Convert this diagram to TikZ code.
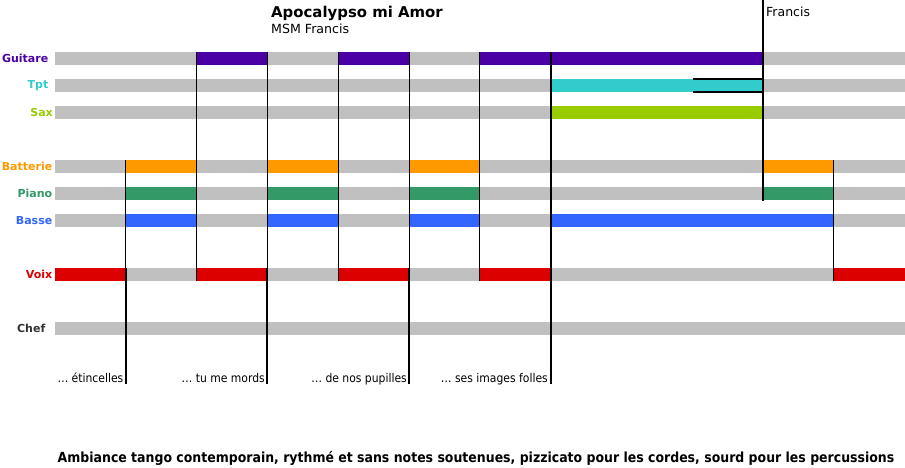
\documentclass[tikz,border=0pt]{standalone}
\usepackage{fontspec}
\setmainfont{DejaVu Sans}
\newfontfamily\condfont{DejaVu Sans Condensed}
\definecolor{cgray}{HTML}{C0C0C0}
\definecolor{cguit}{HTML}{4B00A5}
\definecolor{ctpt}{HTML}{33CCCC}
\definecolor{csax}{HTML}{99CC00}
\definecolor{cbat}{HTML}{FF9900}
\definecolor{cpia}{HTML}{339966}
\definecolor{cbas}{HTML}{3366FF}
\definecolor{cvoix}{HTML}{DD0000}
\definecolor{cchef}{HTML}{333333}
\newcommand{\seg}[4]{\fill[#1] (#3,#2-6.5) rectangle (#4,#2+6.5);}
\begin{document}
\begin{tikzpicture}[x=1pt,y=-1pt,
  lab/.style={anchor=east, font=\fontsize{11}{12}\selectfont\bfseries, inner sep=0pt},
  lyric/.style={anchor=base east, font=\condfont\fontsize{12}{14}\selectfont, inner sep=0pt},
  thinline/.style={line width=1pt, black},
  thickline/.style={line width=2pt, black}]
\useasboundingbox (0,0) rectangle (905,467);
\fill[white] (0,0) rectangle (905,467);
% grey tracks
\foreach \y in {58.5,85.5,112.5,166.5,193.5,220.5,274.5,328.5}
  {\seg{cgray}{\y}{55}{905}}
% guitare
\seg{cguit}{58.5}{196.6}{267.4}
\seg{cguit}{58.5}{338.2}{409}
\seg{cguit}{58.5}{479.8}{763}
% tpt, sax
\seg{ctpt}{85.5}{550.6}{763}
\seg{csax}{112.5}{550.6}{763}
% batterie, piano, basse
\foreach \a/\b in {125.8/196.6, 267.4/338.2, 409/479.8, 763/833.8}
  {\seg{cbat}{166.5}{\a}{\b}
   \seg{cpia}{193.5}{\a}{\b}}
\foreach \a/\b in {125.8/196.6, 267.4/338.2, 409/479.8, 550.6/833.8}
  {\seg{cbas}{220.5}{\a}{\b}}
% voix
\foreach \a/\b in {55/125.8, 196.6/267.4, 338.2/409, 479.8/550.6, 833.8/905}
  {\seg{cvoix}{274.5}{\a}{\b}}
% labels
\node[lab, text=cguit] (lguit) at (48.5,58.5) {Guitare};
\node[lab, text=ctpt] (ltpt) at (48.5,85.5) {Tpt};
\node[lab, text=csax] (lsax) at (53,112.5) {Sax};
\node[lab, text=cbat] (lbat) at (52.5,166.5) {Batterie};
\node[lab, text=cpia] (lpia) at (52.5,193.5) {Piano};
\node[lab, text=cbas] (lbas) at (52.5,220.5) {Basse};
\node[lab, text=cvoix] (lvoix) at (52.5,274.5) {Voix};
\node[lab, text=cchef] (lchef) at (45.5,328.5) {Chef};
% section lines
\draw[thinline] (125.8,160) -- (125.8,281);
\draw[thinline] (833.8,160) -- (833.8,281);
\foreach \x in {196.6,267.4,338.2,409,479.8}
  {\draw[thinline] (\x,52) -- (\x,281);}
\foreach \x in {125.8,267.4,409}
  {\draw[thickline] (\x,268) -- (\x,384);}
\draw[thickline] (550.6,52) -- (550.6,384);
\draw[thickline] (763,0) -- (763,201);
% tpt bracket
\draw[thickline] (692.7,79) -- (763,79);
\draw[thickline] (692.7,92) -- (763,92);
% titles
\node[anchor=base west, inner sep=0pt, font=\fontsize{14.9}{17}\selectfont\bfseries] (title) at (271,17) {Apocalypso mi Amor};
\node[anchor=base west, inner sep=0pt, font=\fontsize{12.6}{14}\selectfont] (author) at (271,33) {MSM Francis};
\node[anchor=base west, inner sep=0pt, font=\fontsize{12.5}{14}\selectfont] (francis) at (766,16) {Francis};
% lyrics
\node[lyric] (ly1) at (123.5,382) {\dots\ étincelles};
\node[lyric] (ly2) at (265,382) {\dots\ tu me mords};
\node[lyric] (ly3) at (407,382) {\dots\ de nos pupilles};
\node[lyric] (ly4) at (548,382) {\dots\ ses images folles};
% footer
\node[anchor=base, inner sep=0pt, font=\condfont\fontsize{13.9}{16}\selectfont\bfseries] (footer) at (476,462) {Ambiance tango contemporain, rythmé et sans notes soutenues, pizzicato pour les cordes, sourd pour les percussions};
\end{tikzpicture}
\end{document}
